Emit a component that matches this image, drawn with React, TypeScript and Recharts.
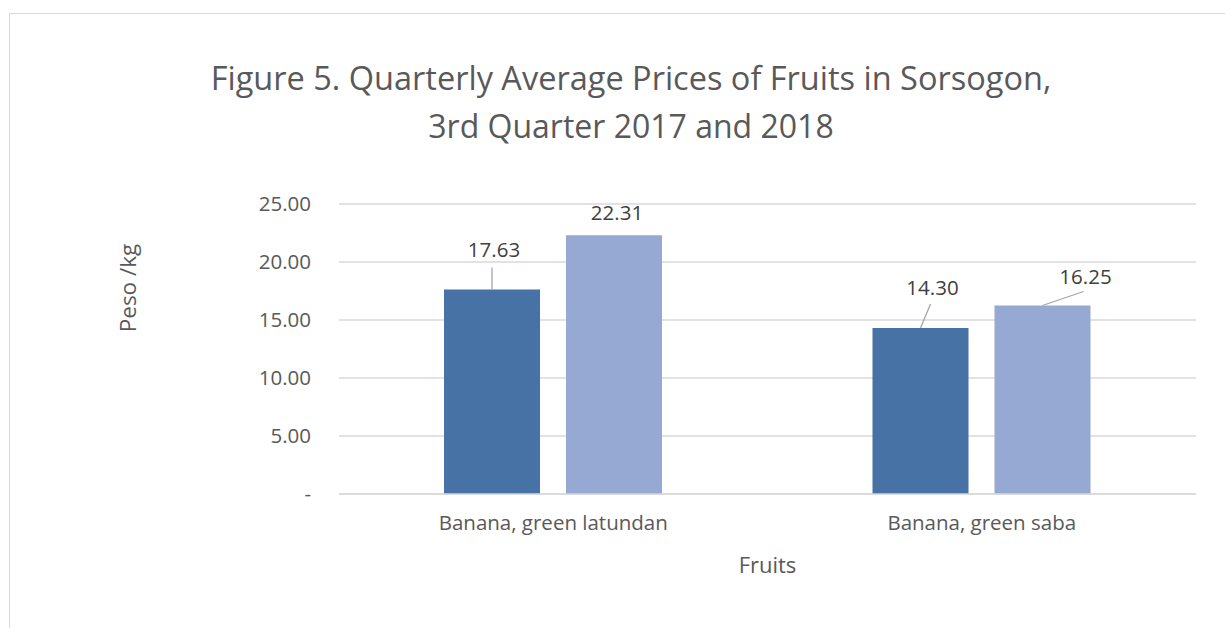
import React from 'react';
import { BarChart, Bar, XAxis, YAxis, CartesianGrid, LabelList } from 'recharts';

const fruits = ['Banana, green latundan', 'Banana,  green saba'];
const prices2017 = [17.63, 14.3];
const prices2018 = [22.31, 16.25];
const yTicks = [0, 5, 10, 15, 20, 25];

const data = fruits.map((name, i) => ({ name, q2017: prices2017[i], q2018: prices2018[i] }));

// label placement relative to the bar top centre (Excel-style dragged labels)
type Place = { dx: number; dy: number; lx?: number; ly?: number };
const place2017: Place[] = [
  { dx: 2, dy: -40, lx: 0, ly: -22 },
  { dx: 12, dy: -41, lx: 10, ly: -24 },
];
const place2018: Place[] = [
  { dx: 3, dy: -23 },
  { dx: 43, dy: -30, lx: 41, ly: -14 },
];

const FONT = '"Open Sans", "DejaVu Sans", sans-serif';
const TEXT = '#595959';

const makeLabel = (places: Place[]) => (props: any) => {
  const { x, y, width, value, index } = props;
  const p = places[index];
  const cx = x + width / 2;
  return (
    <g>
      {p.lx !== undefined && (
        <line x1={cx + p.lx} y1={y + (p.ly ?? 0)} x2={cx} y2={y} stroke="#a6a6a6" strokeWidth={1.3} />
      )}
      <text
        x={cx + p.dx}
        y={y + p.dy}
        textAnchor="middle"
        dominantBaseline="central"
        fill="#404040"
        fontSize={20.5}
        fontFamily={FONT}
      >
        {Number(value).toFixed(2)}
      </text>
    </g>
  );
};

const YLabel = () => (
  <text
    x={127}
    y={288}
    transform="rotate(-90 127 288)"
    textAnchor="middle"
    dominantBaseline="central"
    fill={TEXT}
    fontSize={22.5}
    fontFamily={FONT}
  >
    Peso /kg
  </text>
);

export default function App() {
  return (
    <div style={{ position: 'absolute', left: 0, top: 0, width: 1225, height: 628, overflow: 'hidden', background: '#fff', fontFamily: FONT }}>
      <div style={{ position: 'absolute', left: 9, top: 13, width: 1240, height: 660, border: '1px solid #d9d9d9' }} />
      <div
        style={{
          position: 'absolute',
          left: 0,
          width: 1262,
          top: 54,
          textAlign: 'center',
          fontSize: 32.5,
          lineHeight: '48px',
          color: TEXT,
        }}
      >
        Figure 5. Quarterly Average Prices of Fruits in Sorsogon,
        <br />
        <span style={{ fontSize: 32 }}>3rd Quarter 2017 and 2018</span>
      </div>
      <div style={{ position: 'absolute', left: 0, top: 0 }}>
        <BarChart
          width={1225}
          height={628}
          data={data}
          margin={{ top: 204, right: 29, bottom: 0, left: 0 }}
          barCategoryGap={105}
          barGap={26}
        >
          <CartesianGrid vertical={false} stroke="#d9d9d9" strokeWidth={1.3} />
          <XAxis
            dataKey="name"
            height={134}
            axisLine={{ stroke: '#d9d9d9', strokeWidth: 1.3 }}
            tickLine={false}
            tickSize={0}
            tickMargin={21}
            tick={{ fill: TEXT, fontSize: 20.5, fontFamily: FONT }}
            label={{ value: 'Fruits', position: 'insideBottom', offset: 55, fill: TEXT, fontSize: 22, fontFamily: FONT }}
          />
          <YAxis
            width={339}
            domain={[0, 25]}
            ticks={yTicks}
            axisLine={false}
            tickLine={false}
            tickSize={0}
            tickMargin={28}
            tickFormatter={(v: number) => (v === 0 ? '-' : v.toFixed(2))}
            tick={{ fill: TEXT, fontSize: 20.5, fontFamily: FONT }}
            label={<YLabel />}
          />
          <Bar dataKey="q2017" fill="#4672a6" barSize={96} isAnimationActive={false}>
            <LabelList dataKey="q2017" content={makeLabel(place2017)} />
          </Bar>
          <Bar dataKey="q2018" fill="#95a9d2" barSize={96} isAnimationActive={false}>
            <LabelList dataKey="q2018" content={makeLabel(place2018)} />
          </Bar>
        </BarChart>
      </div>
    </div>
  );
}
